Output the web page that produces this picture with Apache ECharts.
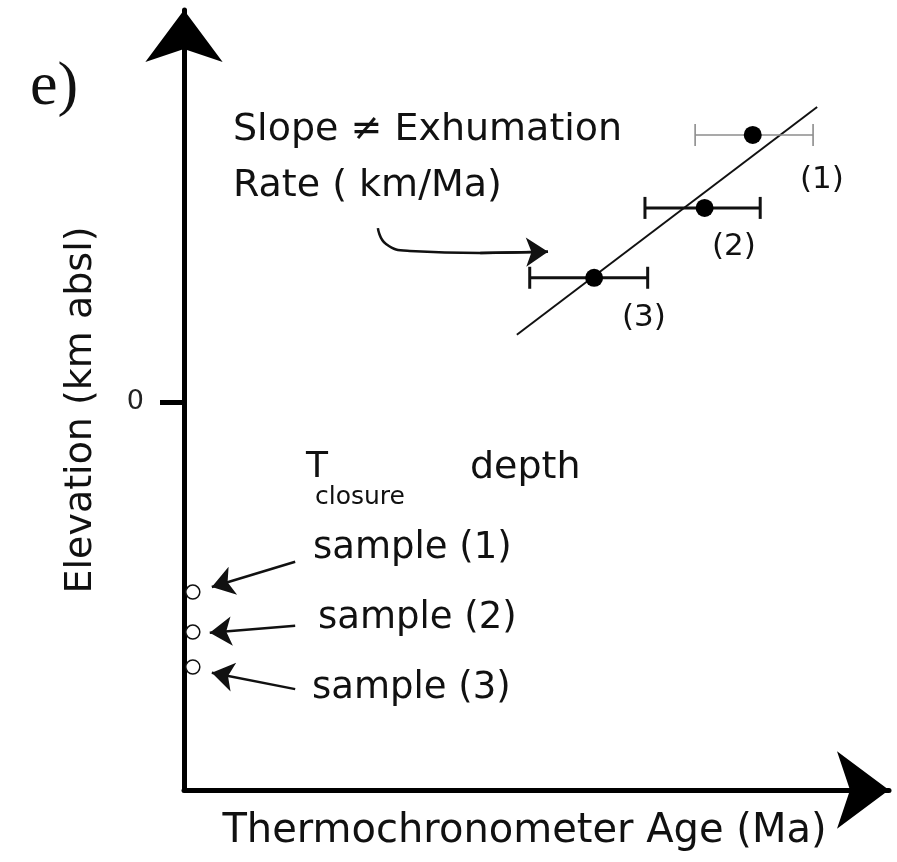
<!DOCTYPE html>
<html>
<head>
<meta charset="utf-8">
<script src="https://cdn.jsdelivr.net/npm/echarts@6/dist/echarts.min.js"></script>
<style>
  html, body { margin: 0; padding: 0; background: #fff; }
  #chart { width: 897px; height: 862px; }
</style>
</head>
<body>
<div id="chart"></div>
<script>
// sample ages (x) and elevations (y), arbitrary units
const sampleAge = [83.9, 76.8, 60.5];
const sampleElev = [6.88, 5.0, 3.2];
const ageLow = [75.4, 68.0, 51.0];
const ageHigh = [92.8, 85.0, 68.4];
// fitted age-elevation line
const fitAge = [49.1, 93.4];
const fitElev = [1.73, 7.6];
// closure depth circles
const depthAge = [1.3, 1.3, 1.3];
const depthElev = [-4.9, -5.93, -6.83];
// curved pointer from the slope text
const curveAge = [28.6, 29.8, 33.3, 43.7, 53.7];
const curveElev = [4.48, 4.07, 3.89, 3.84, 3.87];
// pointers from sample labels to circles
const ptrFrom = [[16.4, -4.12], [16.4, -5.77], [16.4, -7.4]];
const ptrTo = [[4.1, -4.77], [3.8, -5.95], [4.1, -6.98]];

const font = "'DejaVu Sans', 'Open Sans', sans-serif";
const barColor = ["#8c8c8c", "#111", "#111"];
const barWidth = [1.6, 3, 3];

const chart = echarts.init(document.getElementById("chart"));

// text placed by its left edge and vertical middle
function txt(text, x, y, size, family) {
  return {
    type: "text",
    x: x,
    y: y,
    style: {
      text: text,
      fontFamily: family || font,
      fontSize: size,
      fill: "#111",
      align: "left",
      verticalAlign: "middle"
    }
  };
}

const option = {
  animation: false,
  backgroundColor: "#fff",
  grid: { left: 184, right: 8, top: 10, bottom: 72, containLabel: false },
  xAxis: {
    type: "value",
    min: 0,
    max: 104,
    name: "Thermochronometer Age (Ma)",
    nameLocation: "middle",
    nameGap: 22,
    nameTextStyle: {
      fontFamily: font,
      fontSize: 40,
      color: "#111",
      verticalAlign: "top",
      padding: [0, 24, 0, 0]
    },
    axisLine: {
      show: true,
      onZero: false,
      symbol: ["none", "arrow"],
      symbolSize: [58, 52],
      lineStyle: { color: "#000", width: 5 }
    },
    axisTick: { show: false },
    axisLabel: { show: false },
    splitLine: { show: false }
  },
  yAxis: {
    type: "value",
    min: -10,
    max: 10.1,
    name: "Elevation (km absl)",
    nameLocation: "middle",
    nameGap: 84,
    nameRotate: 90,
    nameTextStyle: {
      fontFamily: font,
      fontSize: 38,
      color: "#111",
      padding: [0, 20, 0, 0]
    },
    axisLine: {
      show: true,
      onZero: false,
      symbol: ["none", "arrow"],
      symbolSize: [58, 52],
      lineStyle: { color: "#000", width: 5 }
    },
    axisTick: {
      show: true,
      customValues: [0],
      length: 24,
      lineStyle: { color: "#000", width: 5 }
    },
    axisLabel: {
      show: true,
      customValues: [0],
      margin: 40,
      fontFamily: font,
      fontSize: 27,
      color: "#222"
    },
    splitLine: { show: false }
  },
  graphic: [
    txt("e)", 30, 88, 62, "'Liberation Serif', 'DejaVu Serif', serif"),
    txt("Slope \u2260 Exhumation", 233, 130, 38),
    txt("Rate ( km/Ma)", 233, 186, 38),
    txt("(1)", 800, 180, 31),
    txt("(2)", 712, 247, 31),
    txt("(3)", 622, 318, 31),
    txt("T", 306, 468, 36),
    txt("closure", 315, 497, 25),
    txt("depth", 470, 468, 38),
    txt("sample (1)", 313, 548, 37),
    txt("sample (2)", 318, 618, 37),
    txt("sample (3)", 312, 688, 37)
  ],
  series: [
    {
      type: "line",
      data: fitAge.map((x, i) => [x, fitElev[i]]),
      symbol: "none",
      lineStyle: { color: "#111", width: 2 },
      z: 2
    },
    {
      type: "custom",
      data: sampleAge.map((x, i) => [ageLow[i], ageHigh[i], sampleElev[i], i]),
      renderItem: function (params, api) {
        const a = api.coord([api.value(0), api.value(2)]);
        const b = api.coord([api.value(1), api.value(2)]);
        const i = api.value(3);
        const st = { stroke: barColor[i], lineWidth: barWidth[i] };
        const h = 11;
        return {
          type: "group",
          children: [
            { type: "line", shape: { x1: a[0], y1: a[1], x2: b[0], y2: b[1] }, style: st },
            { type: "line", shape: { x1: a[0], y1: a[1] - h, x2: a[0], y2: a[1] + h }, style: st },
            { type: "line", shape: { x1: b[0], y1: b[1] - h, x2: b[0], y2: b[1] + h }, style: st }
          ]
        };
      },
      z: 3
    },
    {
      type: "scatter",
      data: sampleAge.map((x, i) => [x, sampleElev[i]]),
      symbol: "circle",
      symbolSize: 18,
      itemStyle: { color: "#000", opacity: 1 },
      z: 4
    },
    {
      type: "scatter",
      data: depthAge.map((x, i) => [x, depthElev[i]]),
      symbol: "circle",
      symbolSize: 14,
      itemStyle: { color: "#fff", borderColor: "#111", borderWidth: 1.5, opacity: 1 },
      z: 4
    },
    {
      type: "line",
      data: curveAge.map((x, i) => [x, curveElev[i]]),
      smooth: 0.5,
      symbol: "none",
      lineStyle: { color: "#111", width: 2.5 },
      z: 2
    },
    {
      type: "lines",
      coordinateSystem: "cartesian2d",
      symbol: ["none", "arrow"],
      symbolSize: [14, 22],
      lineStyle: { color: "#111", width: 2.5, opacity: 1 },
      data: [{ coords: [[curveAge[3], curveElev[3]], [curveAge[4], curveElev[4]]] }]
        .concat(ptrFrom.map((p, i) => ({ coords: [p, ptrTo[i]] }))),
      z: 3
    }
  ]
};

chart.setOption(option);
</script>
</body>
</html>
